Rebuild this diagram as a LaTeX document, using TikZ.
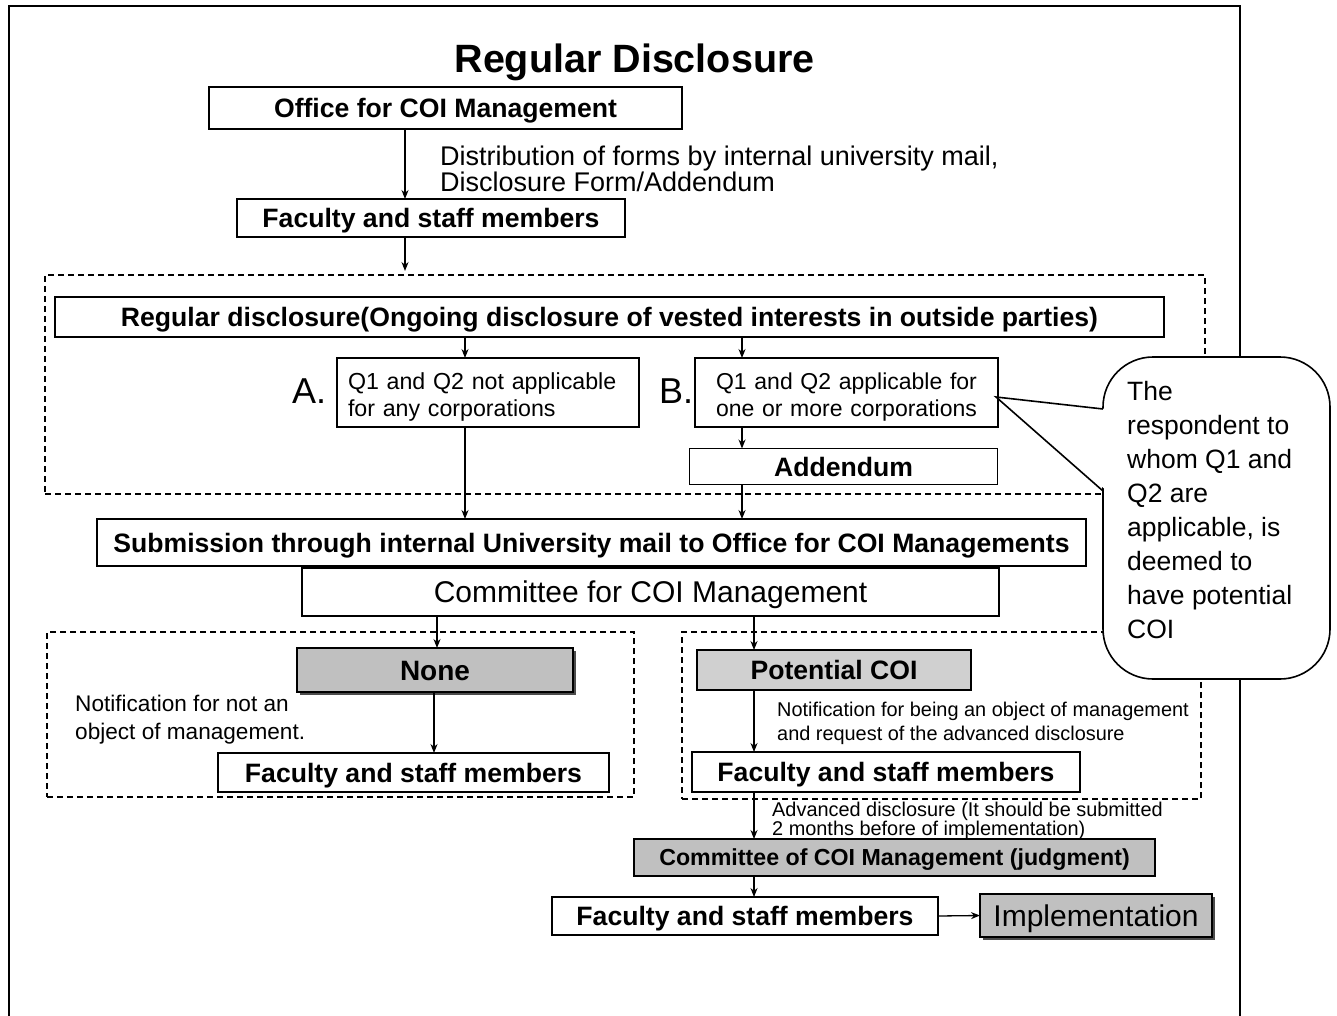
\documentclass[tikz,border=0pt]{standalone}
\usepackage{fontspec}
\setmainfont{Liberation Sans}
\usetikzlibrary{arrows.meta}
\newcommand\txtsize[2]{\fontsize{#1}{#2}\selectfont}
\definecolor{boxgray}{HTML}{C0C0C0}
\definecolor{lightgray}{HTML}{D0D0D0}
\begin{document}
\begin{tikzpicture}[x=1pt,y=-1pt,
  box/.style={draw, line width=1.6pt, fill=white, inner sep=0pt, outer sep=0pt, align=center},
  bold/.style={font=\txtsize{26.6}{30}\bfseries, text height=19pt, text depth=0pt},
  big/.style={font=\txtsize{30}{34}, text height=21.5pt, text depth=0pt},
  dbox/.style={draw, line width=1.2pt, dash pattern=on 6pt off 4pt, inner sep=0pt, outer sep=0pt},
  arr/.style={line width=1.3pt, -{Stealth[length=9pt,width=7pt]}},
  shadowed/.style={fill=boxgray, preaction={fill=black!70, transform canvas={xshift=3pt,yshift=-3pt}}},
  note/.style={inner sep=0pt, anchor=north west, align=left}
]
\useasboundingbox (0,0) rectangle (1337,1016);
\fill[white] (0,0) rectangle (1337,1016);

% page frame
\draw[line width=2pt] (9,1016) -- (9,6) -- (1240,6) -- (1240,1016);

% title
\node[font=\txtsize{39.5}{44}\bfseries, anchor=base, inner sep=0pt] (title) at (634.5,73) {Regular Disclosure};

% dashed groups
\node[dbox, minimum width=1160, minimum height=219] (grpA) at (625,384.5) {};
\node[dbox, minimum width=587, minimum height=165] (grpL) at (340.5,714.5) {};
\node[dbox, minimum width=519, minimum height=167] (grpR) at (941.5,715.5) {};

% boxes
\node[box, bold, minimum width=473, minimum height=42] (office) at (445.5,108) {Office for COI Management};
\node[box, bold, minimum width=388, minimum height=38] (fac1) at (431,218) {Faculty and staff members};
\node[box, bold, minimum width=1109, minimum height=40] (reg) at (609.5,317)
  {Regular disclosure(Ongoing disclosure of vested interests in outside parties)};
\node[box, minimum width=302, minimum height=69, text width=280, align=left,
  font=\txtsize{23.2}{27}] (qa) at (488,392.5) {\rule{0pt}{25pt}Q1 and Q2 not applicable\\for any corporations};
\node[box, minimum width=303, minimum height=69, text width=290, align=center,
  font=\txtsize{23}{27}] (qb) at (846.5,392.5) {\rule{0pt}{25pt}Q1 and Q2 applicable for\\one or more corporations};
\node[font=\txtsize{36}{40}, anchor=base west, inner sep=0pt] (la) at (292,403) {A.};
\node[font=\txtsize{36}{40}, anchor=base west, inner sep=0pt] (lb) at (659,403) {B.};
\node[box, bold, minimum width=308, minimum height=36] (add) at (843.5,466.5) {Addendum};
\node[box, bold, minimum width=989, minimum height=47] (subm) at (591.5,542.5)
  {Submission through internal University mail to Office for COI Managements};
\node[box, big, minimum width=697, minimum height=48] (comm) at (650.5,592) {Committee for COI Management};
\node[box, shadowed, font=\txtsize{28}{32}\bfseries, text height=20pt, text depth=0pt,
  minimum width=276, minimum height=44] (none) at (435,670) {None};
\node[box, fill=lightgray, bold, minimum width=274, minimum height=40] (pcoi) at (834,670) {Potential COI};
\node[box, bold, minimum width=391, minimum height=39] (facL) at (413.5,772.5) {Faculty and staff members};
\node[box, bold, minimum width=388, minimum height=40] (facR) at (886,772) {Faculty and staff members};
\node[box, fill=boxgray, font=\txtsize{23.2}{27}\bfseries, text height=16.6pt, text depth=0pt,
  minimum width=521, minimum height=37] (judg) at (894.5,857.5) {Committee of COI Management (judgment)};
\node[box, bold, minimum width=386, minimum height=38] (facB) at (745,916) {Faculty and staff members};
\node[box, shadowed, big, minimum width=232, minimum height=43] (impl) at (1096,915.5) {Implementation};

% free notes
\node[note, font=\txtsize{27}{22}] (dist) at (440,146)
  {Distribution of forms by internal university mail,\\Disclosure Form/Addendum};
\node[note, font=\txtsize{22.6}{28}] (notA) at (75,695)
  {Notification for not an\\object of management.};
\node[note, font=\txtsize{19.9}{23.5}] (notB) at (777,702)
  {Notification for being an object of management\\and request of the advanced disclosure};
\node[note, font=\txtsize{19.9}{17}] (adv) at (772,801.5)
  {Advanced disclosure (It should be submitted\\2 months before of implementation)};

% arrow columns
\coordinate (k405) at (405,0);
\coordinate (k465) at (465,0);
\coordinate (k742) at (742,0);
\coordinate (k437) at (437,0);
\coordinate (k434) at (434,0);
\coordinate (k754) at (754,0);

% connectors
\draw[arr] (office.south -| k405) -- (fac1.north -| k405);
\draw[arr, shorten >=4pt] (fac1.south -| k405) -- (grpA.north -| k405);
\draw[arr] (reg.south -| k465) -- (qa.north -| k465);
\draw[arr] (reg.south -| k742) -- (qb.north -| k742);
\draw[arr] (qb.south -| k742) -- (add.north -| k742);
\draw[arr] (qa.south -| k465) -- (subm.north -| k465);
\draw[arr] (add.south -| k742) -- (subm.north -| k742);
\draw[arr] (comm.south -| k437) -- (none.north -| k437);
\draw[arr] (comm.south -| k754) -- (pcoi.north -| k754);
\draw[arr] (none.south -| k434) -- (facL.north -| k434);
\draw[arr] (pcoi.south -| k754) -- (facR.north -| k754);
\draw[arr] (facR.south -| k754) -- (judg.north -| k754);
\draw[arr] (judg.south -| k754) -- (facB.north -| k754);
\draw[arr] (facB.east) -- (impl.west);

% callout bubble
\draw[line width=1.6pt, fill=white, rounded corners=50pt] (1103,357) rectangle (1330,679);
\coordinate (tip) at (996,397);
\fill[white] (tip) -- (1107,409) -- (1107,491) -- cycle;
\draw[line width=1.6pt, line join=miter] (1103,409) -- (tip) -- (1103,491);
\node[note, font=\txtsize{26.5}{34}] (bubtext) at (1127,381)
  {The\\respondent to\\whom Q1 and\\Q2 are\\applicable, is\\deemed to\\have potential\\COI};
\end{tikzpicture}
\end{document}
